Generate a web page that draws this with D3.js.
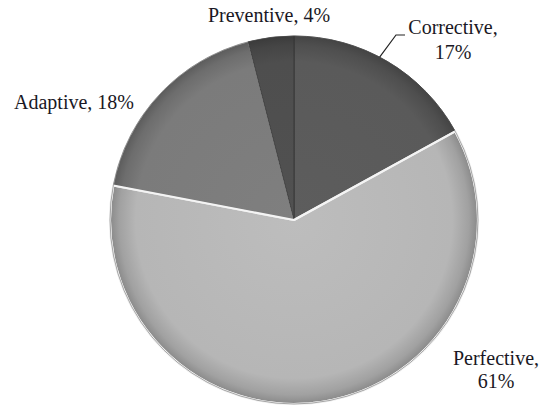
<!DOCTYPE html>
<html>
<head>
<meta charset="utf-8">
<script src="https://cdn.jsdelivr.net/npm/d3@7"></script>
<style>
  html, body { margin: 0; padding: 0; background: #fff; }
  svg { display: block; }
  text { font-family: "Liberation Serif", "Times New Roman", serif; font-size: 20px; fill: #1a1824; }
</style>
</head>
<body>
<svg id="chart" width="543" height="405"></svg>
<script>
const categories = ["Corrective", "Perfective", "Adaptive", "Preventive"];
const values = [17, 61, 18, 4];
const sliceColors = ["#5a5a5a", "#b6b6b6", "#7b7b7b", "#4e4e4e"];

// layout (not data)
const cx = 294, cy = 220, R = 184;
const labelLayout = [
  { x: 453, lines: [{ t: d => d.cat + ",", y: 34 }, { t: d => d.val + "%", y: 59 }] },
  { x: 496, lines: [{ t: d => d.cat + ",", y: 365 }, { t: d => d.val + "%", y: 388 }] },
  { x: 74,  lines: [{ t: d => d.cat + ", " + d.val + "%", y: 109 }] },
  { x: 269, lines: [{ t: d => d.cat + ", " + d.val + "%", y: 22 }] }
];
const strokeColors = ["#333", "#efefef", "#d0d0d0", "#333"];

const data = categories.map((c, i) => ({ cat: c, val: values[i], color: sliceColors[i] }));

const svg = d3.select("#chart");
const defs = svg.append("defs");

data.forEach((d, i) => {
  const base = d3.color(d.color);
  const gr = defs.append("radialGradient")
    .attr("id", "grad" + i)
    .attr("gradientUnits", "userSpaceOnUse")
    .attr("cx", 0).attr("cy", 0).attr("r", R);
  gr.append("stop").attr("offset", "0%").attr("stop-color", base.brighter(0.1));
  gr.append("stop").attr("offset", "86%").attr("stop-color", base);
  gr.append("stop").attr("offset", "95%").attr("stop-color", base.darker(0.35));
  gr.append("stop").attr("offset", "100%").attr("stop-color", base.darker(0.8));
});

const pie = d3.pie().value(d => d.val).sort(null);
const arc = d3.arc().innerRadius(0).outerRadius(R);
const arcs = pie(data);

const g = svg.append("g").attr("transform", `translate(${cx},${cy})`);

g.selectAll("path.slice")
  .data(arcs)
  .join("path")
  .attr("class", "slice")
  .attr("d", arc)
  .attr("fill", (d, i) => `url(#grad${i})`)
  .attr("stroke", (d, i) => strokeColors[i])
  .attr("stroke-width", (d, i) => i === 1 ? 2 : 0.8)
  .attr("stroke-linejoin", "round");

// Perfective highlight edge on top
g.append("path")
  .attr("d", arc(arcs[1]))
  .attr("fill", "none")
  .attr("stroke", "#f4f4f4")
  .attr("stroke-width", 2.2)
  .attr("stroke-linejoin", "round");

// outer rim
g.append("circle")
  .attr("r", R)
  .attr("fill", "none")
  .attr("stroke", "#555")
  .attr("stroke-opacity", 0.5)
  .attr("stroke-width", 1);

// leader line for Corrective
const a0 = arcs[0];
const mid = (a0.startAngle + a0.endAngle) / 2 - 0.05;
const px = cx + R * Math.sin(mid), py = cy - R * Math.cos(mid);
svg.append("polyline")
  .attr("points", [[px, py], [396, 35], [405, 35]].map(p => p.join(",")).join(" "))
  .attr("fill", "none")
  .attr("stroke", "#222")
  .attr("stroke-width", 1.2);

// labels
data.forEach((d, i) => {
  const L = labelLayout[i];
  L.lines.forEach(l => {
    svg.append("text")
      .attr("x", L.x).attr("y", l.y)
      .attr("text-anchor", "middle")
      .text(l.t(d));
  });
});
</script>
</body>
</html>
